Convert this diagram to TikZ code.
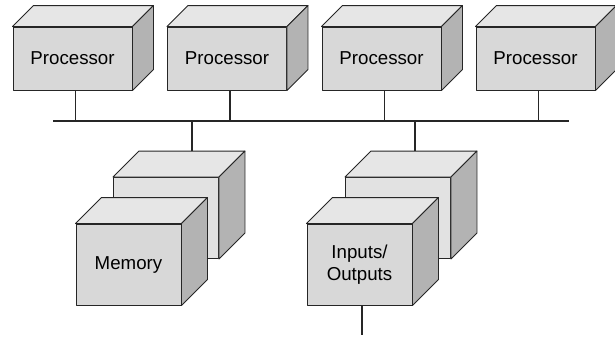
\documentclass[tikz,border=0pt]{standalone}
\usepackage{fontspec}
\setmainfont{Liberation Sans}
\definecolor{frontgray}{HTML}{D8D8D8}
\definecolor{backgray}{HTML}{E2E2E2}
\definecolor{topgray}{HTML}{E6E6E6}
\definecolor{sidegray}{HTML}{B3B3B3}
% top and side faces of a box drawn as a node: #1 node, #2 depth
\newcommand{\cubefaces}[2]{%
  \filldraw[fill=topgray] (#1.north west) -- ++(#2,-#2) -- ([shift={(#2,-#2)}]#1.north east) -- (#1.north east) -- cycle;
  \filldraw[fill=sidegray] (#1.north east) -- ++(#2,-#2) -- ([shift={(#2,-#2)}]#1.south east) -- (#1.south east) -- cycle;
}
\begin{document}
\begin{tikzpicture}[x=1pt,y=-1pt,line width=0.9pt,line join=round,draw=black!85,
  every node/.style={font=\fontsize{18.7}{22}\selectfont},
  procbox/.style={draw,fill=frontgray,minimum width=119,minimum height=63,inner sep=0},
  membox/.style={draw,fill=frontgray,minimum width=105,minimum height=81,inner sep=0,align=center},
  stem/.style={line width=1.1pt},
  bus/.style={line width=1.6pt}]
  \useasboundingbox (0,0) rectangle (615,338);
  % processors
  \foreach \i/\cx in {1/72.5,2/227,3/381.5,4/535.5} {
    \node[procbox] (proc\i) at (\cx,58.5) {Processor};
    \cubefaces{proc\i}{21}
  }
  % bus
  \coordinate (busL) at (53,121);
  \coordinate (busR) at (569,121);
  \draw[bus] (busL) -- (busR);
  \foreach \i in {1,...,4}
    \draw[stem] ([xshift=3]proc\i.south) -- ([xshift=3]proc\i.south |- busL);
  % memory
  \node[membox,fill=backgray] (memback) at (166,218) {};
  \cubefaces{memback}{26}
  \node[membox] (mem) at (128.5,264.5) {Memory};
  \cubefaces{mem}{26}
  % inputs / outputs
  \node[membox,fill=backgray] (ioback) at (398,218) {};
  \cubefaces{ioback}{26}
  \node[membox] (io) at (359.5,264.5) {Inputs/\\Outputs};
  \cubefaces{io}{26}
  % connections to the bus
  \coordinate (memtop) at ([shift={(26,-26)}]memback.north);
  \coordinate (iotop) at ([shift={(17,-26)}]ioback.north);
  \draw[stem] (memtop) -- (memtop |- busL);
  \draw[stem] (iotop) -- (iotop |- busL);
  \coordinate (ioend) at ([xshift=2.5,yshift=-30]io.south);
  \draw[stem] ([xshift=2.5]io.south) -- (ioend);
\end{tikzpicture}
\end{document}
